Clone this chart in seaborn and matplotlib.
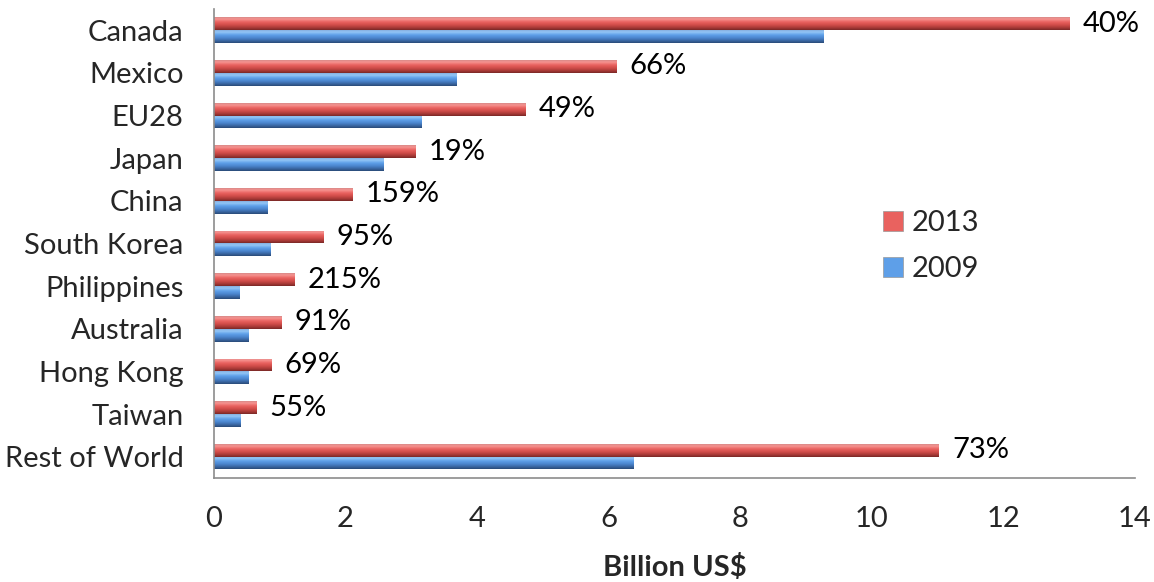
import numpy as np
import pandas as pd
import matplotlib
matplotlib.use("Agg")
import matplotlib.pyplot as plt
import matplotlib.colors as mcolors
from matplotlib.patches import Patch
import seaborn as sns

# ---- data ----
countries = ["Canada", "Mexico", "EU28", "Japan", "China", "South Korea",
             "Philippines", "Australia", "Hong Kong", "Taiwan", "Rest of World"]
values_2013 = [13.0, 6.12, 4.74, 3.07, 2.10, 1.67, 1.22, 1.02, 0.87, 0.64, 11.02]
values_2009 = [9.26, 3.68, 3.16, 2.57, 0.81, 0.86, 0.39, 0.53, 0.52, 0.41, 6.37]
growth_labels = ["40%", "66%", "49%", "19%", "159%", "95%", "215%", "91%", "69%", "55%", "73%"]
years = ["2013", "2009"]
colors = {"2013": "#D9534F", "2009": "#4F8AD6"}
xticks = [0, 2, 4, 6, 8, 10, 12, 14]

# gradient stops (top -> bottom) mimicking the bevelled bars
gradients = {
    "2013": ["#d98a88", "#f69290", "#e9625f", "#d24d4a", "#a93a37", "#7a2826"],
    "2009": ["#86aedf", "#93c6f6", "#5e9fe8", "#4c87d0", "#3a67a3", "#2a4a78"],
}
grad_pos = [0.0, 0.15, 0.38, 0.6, 0.82, 1.0]

df = pd.DataFrame({
    "country": countries * 2,
    "value": values_2013 + values_2009,
    "year": ["2013"] * len(countries) + ["2009"] * len(countries),
})

sns.set_style("white")
plt.rcParams["font.family"] = ["Lato", "DejaVu Sans"]
FS = 21

fig = plt.figure(figsize=(11.54, 5.82), dpi=100)
ax = fig.add_axes([0.1854, 0.1787, 0.798, 0.806])

sns.barplot(data=df, y="country", x="value", hue="year", hue_order=years,
            palette=colors, orient="h", width=0.6, ax=ax, legend=False,
            saturation=1, linewidth=0)

ax.set_xlim(0, 14)
xlim = ax.get_xlim()
ylim = ax.get_ylim()


def grad_array(year):
    n = 50
    t = np.linspace(0, 1, n)
    cols = np.array([mcolors.to_rgb(c) for c in gradients[year]])
    arr = np.zeros((n, 1, 3))
    for ch in range(3):
        arr[:, 0, ch] = np.interp(t, grad_pos, cols[:, ch])
    return arr


n = len(countries)
for i, patch in enumerate(ax.patches):
    year = years[0] if i < n else years[1]
    x0, y0 = patch.get_x(), patch.get_y()
    w, h = patch.get_width(), patch.get_height()
    if w <= 0:
        continue
    im = ax.imshow(grad_array(year), extent=(x0, x0 + w, y0 + h, y0), origin="upper",
                   aspect="auto", zorder=patch.get_zorder() + 0.1, interpolation="bilinear")
    im.set_clip_path(patch)

ax.set_xlim(xlim)
ax.set_ylim(ylim)

# percentage labels beside 2013 bars
red_bars = ax.patches[:n]
for bar, lab in zip(red_bars, growth_labels):
    ax.text(bar.get_width() + 0.2, bar.get_y() + bar.get_height() * 0.5, lab,
            va="center", ha="left", fontsize=FS, color="black")

ax.set_xticks(xticks)
ax.set_xticklabels([str(t) for t in xticks], fontsize=FS)
ax.tick_params(axis="y", labelsize=FS, length=0, pad=22)
ax.tick_params(axis="x", length=0, pad=20)
ax.set_ylabel("")
ax.set_xlabel("Billion US$", fontsize=FS, fontweight="bold", labelpad=16)

for s in ["top", "right"]:
    ax.spines[s].set_visible(False)
for s in ["left", "bottom"]:
    ax.spines[s].set_color("#8c8c8c")
    ax.spines[s].set_linewidth(1.2)

handles = [Patch(facecolor=gradients[y][2], edgecolor="#999999", linewidth=0.5) for y in years]
ax.legend(handles, years, loc="center left", bbox_to_anchor=(0.765, 0.577),
          bbox_transform=fig.transFigure, frameon=False, fontsize=FS,
          handlelength=0.7, handleheight=0.7, handletextpad=0.3, labelspacing=0.7,
          borderpad=0, borderaxespad=0)

fig.savefig("out.png", dpi=100)
